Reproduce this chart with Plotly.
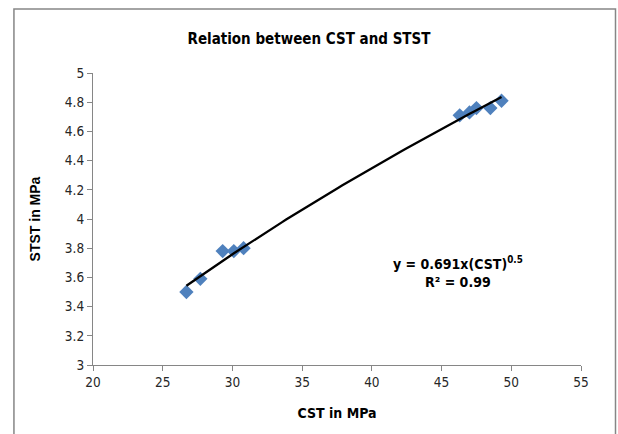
import numpy as np
import plotly.graph_objects as go

# Compressive strength (CST) vs split tensile strength (STST), MPa
cst = [26.7, 27.7, 29.3, 30.1, 30.8, 46.3, 47.0, 47.5, 48.5, 49.3]
stst = [3.50, 3.59, 3.78, 3.78, 3.80, 4.71, 4.73, 4.76, 4.76, 4.81]

title_text = "Relation between CST and STST"
x_title = "CST in MPa"
y_title = "STST in MPa"
eq_text = "<b>y = 0.691x(CST)<sup>0.5</sup></b><br><b>R² = 0.99</b>"

narrow = "Liberation Sans Narrow, Arial Narrow, DejaVu Sans Condensed, Liberation Sans, sans-serif"

# power trendline fitted in log space, same as Excel's power fit
b, log_a = np.polyfit(np.log(cst), np.log(stst), 1)
fit_x = np.linspace(min(cst), max(cst), 80)
fit_y = np.exp(log_a) * fit_x ** b

fig = go.Figure()
fig.add_trace(go.Scatter(
    x=cst, y=stst, mode="markers",
    marker=dict(symbol="diamond", size=11, color="#4F81BD"),
    showlegend=False,
))
fig.add_trace(go.Scatter(
    x=fit_x, y=fit_y, mode="lines",
    line=dict(color="black", width=2.3),
    showlegend=False,
))

axis_style = dict(
    showline=True, linecolor="#868686", linewidth=1.3,
    ticks="outside", tickcolor="#868686", ticklen=5,
    showgrid=False, zeroline=False, automargin=False,
    tickfont=dict(family=narrow, size=13.5, color="#262626"),
)

fig.update_xaxes(range=[20, 55], dtick=5, tick0=20,
                 title=dict(text=f"<b>{x_title}</b>", font=dict(family=narrow, size=14, color="black"), standoff=18),
                 **axis_style)
fig.update_yaxes(range=[3, 5], dtick=0.2, tick0=3,
                 title=dict(text=f"<b>{y_title}</b>", font=dict(family="Liberation Sans, Arial", size=14, color="black"), standoff=20),
                 **axis_style)

fig.add_annotation(
    x=0.748, y=0.318, xref="paper", yref="paper", xanchor="center", yanchor="middle",
    text=eq_text, showarrow=False,
    font=dict(family=narrow, size=14, color="black"), align="center",
)

# outer chart-area border
fig.add_shape(type="rect", xref="paper", yref="paper",
              x0=-0.162, x1=1.0707, y0=-0.26, y1=1.219,
              line=dict(color="#868686", width=1.5))

fig.update_layout(
    width=618, height=434,
    margin=dict(l=93, r=37, t=73, b=69),
    paper_bgcolor="white", plot_bgcolor="white",
    title=dict(text=f"<b>{title_text}</b>", x=0.5, xanchor="center", y=0.91, yanchor="middle",
               font=dict(family=narrow, size=15, color="black")),
)

fig.write_html("out.html", config={"displayModeBar": False},
               post_script="document.body.style.margin='0';document.body.style.overflow='hidden';")
